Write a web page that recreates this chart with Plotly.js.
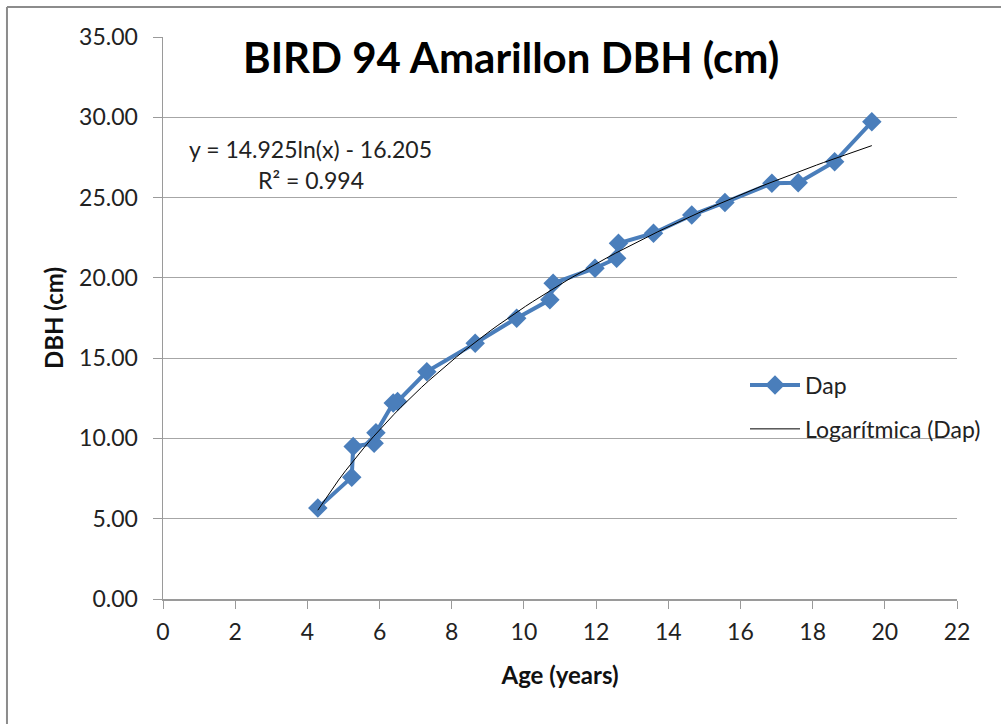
<!DOCTYPE html>
<html>
<head>
<meta charset="utf-8">
<script src="https://cdn.plot.ly/plotly-3.0.1.min.js"></script>
<style>html,body{margin:0;padding:0;background:#fff;}#chart{width:1001px;height:724px;}</style>
</head>
<body>
<div id="chart"></div>
<script>
// Data
const ageYears = [4.29, 5.23, 5.27, 5.85, 5.90, 6.38, 6.50, 7.31, 8.65, 9.80, 10.72, 10.81, 11.97, 12.57, 12.62, 13.59, 14.65, 15.57, 16.87, 17.60, 18.61, 19.64];
const dapCm    = [5.66, 7.59, 9.50, 9.70, 10.35, 12.20, 12.30, 14.16, 15.93, 17.49, 18.63, 19.66, 20.60, 21.22, 22.15, 22.78, 23.91, 24.70, 25.89, 25.93, 27.23, 29.72];
// Logarithmic trend line as printed on the chart: y = 14.925 ln(x) - 16.205
const trendA = 14.925;
const trendB = -16.205;
const trendLabel = "y = 14.925ln(x) - 16.205";
const r2Label = "R² = 0.994";
const xTicks = [0, 2, 4, 6, 8, 10, 12, 14, 16, 18, 20, 22];
const yTicks = [0, 5, 10, 15, 20, 25, 30, 35];

const xMin = Math.min(...ageYears), xMax = Math.max(...ageYears);
const trendX = [], trendY = [];
for (let i = 0; i <= 80; i++) {
  const x = xMin + (xMax - xMin) * i / 80;
  trendX.push(x);
  trendY.push(trendA * Math.log(x) + trendB);
}

const font = "Lato, 'Open Sans', 'DejaVu Sans', sans-serif";
const blue = "#4A7EBB";

const traces = [
  {x: ageYears, y: dapCm, type: "scatter", mode: "lines+markers", name: "Dap", legendgroup: "a",
   line: {color: blue, width: 4}, marker: {symbol: "diamond", size: 15, color: blue}},
  {x: trendX, y: trendY, type: "scatter", mode: "lines", name: "Logarítmica (Dap)", legendgroup: "b",
   line: {color: "#000000", width: 1}}
];

const layout = {
  width: 1001, height: 724,
  margin: {l: 163, r: 44, t: 37, b: 125},
  paper_bgcolor: "#ffffff", plot_bgcolor: "#ffffff",
  font: {family: font, size: 23, color: "#222"},
  showlegend: true,
  legend: {x: 0.733, y: 0.419, xanchor: "left", yanchor: "top", font: {size: 23, color: "#222"},
           traceorder: "grouped", tracegroupgap: 11, bgcolor: "rgba(0,0,0,0)", itemwidth: 50},
  xaxis: {range: [0, 22], tickvals: xTicks, ticktext: xTicks.map(String), showgrid: false,
          zeroline: false, showline: true, linecolor: "#9a9a9a", linewidth: 1.5,
          ticks: "outside", ticklen: 8, tickcolor: "#9a9a9a", tickfont: {size: 23, color: "#222"},
          ticklabelstandoff: 4,
          title: {text: "<b>Age (years)</b>", font: {size: 24, color: "#111"}, standoff: 23}},
  yaxis: {range: [0, 35], tickvals: yTicks, tickformat: ".2f", showgrid: true, gridcolor: "#a6a6a6", gridwidth: 1.2,
          zeroline: false, showline: true, linecolor: "#9a9a9a", linewidth: 1.5,
          ticks: "outside", ticklen: 9, tickcolor: "#9a9a9a", tickfont: {size: 23, color: "#222"},
          ticklabelstandoff: 10,
          title: {text: "<b>DBH (cm)</b>", font: {size: 24, color: "#111"}, standoff: 8}},
  annotations: [
    {text: "<b>BIRD 94 Amarillon DBH (cm)</b>", xref: "paper", yref: "paper", x: 0.438, y: 0.965,
     xanchor: "center", yanchor: "middle", showarrow: false, font: {size: 42, color: "#000", family: font}},
    {text: trendLabel, xref: "paper", yref: "paper", x: 0.186, y: 0.80, xanchor: "center", yanchor: "middle",
     showarrow: false, font: {size: 23, color: "#222"}},
    {text: r2Label, xref: "paper", yref: "paper", x: 0.186, y: 0.746, xanchor: "center", yanchor: "middle",
     showarrow: false, font: {size: 23, color: "#222"}}
  ],
  shapes: [
    {type: "line", xref: "paper", yref: "paper", x0: -0.1965, x1: -0.1965, y0: 1.0534, y1: -0.4,
     line: {color: "#8c8c8c", width: 2}},
    {type: "line", xref: "paper", yref: "paper", x0: -0.1965, x1: 1.2, y0: 1.0534, y1: 1.0534,
     line: {color: "#8c8c8c", width: 2}}
  ]
};

Plotly.newPlot("chart", traces, layout, {staticPlot: true, displayModeBar: false});
</script>
</body>
</html>
